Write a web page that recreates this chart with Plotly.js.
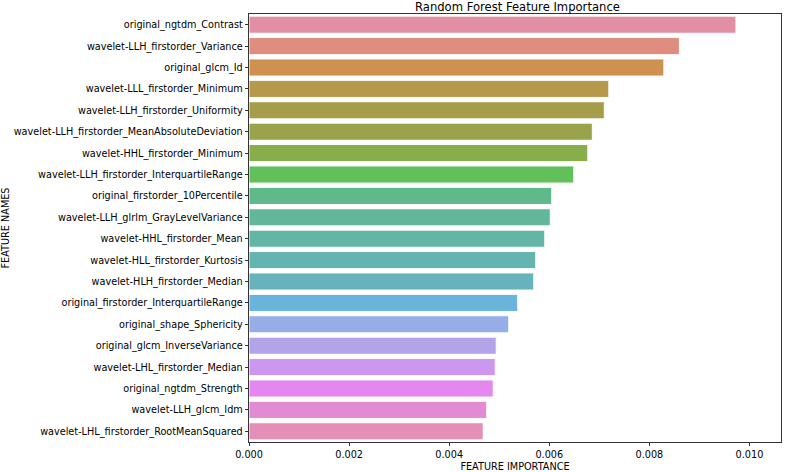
<!DOCTYPE html>
<html>
<head>
<meta charset="utf-8">
<script src="https://cdn.plot.ly/plotly-3.0.1.min.js"></script>
<style>
  html, body { margin: 0; padding: 0; background: #fff; }
  #chart { width: 790px; height: 472px; }
</style>
</head>
<body>
<div id="chart"></div>
<script>
// Feature names, top to bottom
const features = [
    "original_ngtdm_Contrast",
    "wavelet-LLH_firstorder_Variance",
    "original_glcm_Id",
    "wavelet-LLL_firstorder_Minimum",
    "wavelet-LLH_firstorder_Uniformity",
    "wavelet-LLH_firstorder_MeanAbsoluteDeviation",
    "wavelet-HHL_firstorder_Minimum",
    "wavelet-LLH_firstorder_InterquartileRange",
    "original_firstorder_10Percentile",
    "wavelet-LLH_glrlm_GrayLevelVariance",
    "wavelet-HHL_firstorder_Mean",
    "wavelet-HLL_firstorder_Kurtosis",
    "wavelet-HLH_firstorder_Median",
    "original_firstorder_InterquartileRange",
    "original_shape_Sphericity",
    "original_glcm_InverseVariance",
    "wavelet-LHL_firstorder_Median",
    "original_ngtdm_Strength",
    "wavelet-LLH_glcm_Idm",
    "wavelet-LHL_firstorder_RootMeanSquared"
];

// Importance values
const importance = [
    0.00973, 0.00860, 0.00829, 0.00719, 0.00710,
    0.00686, 0.00677, 0.00649, 0.00605, 0.00602,
    0.00591, 0.00573, 0.00569, 0.00537, 0.00519,
    0.00494, 0.00492, 0.00488, 0.00475, 0.00468
];

const barColors = [
    "#e28fa3", "#df8d7f", "#cf914f", "#b6994b", "#a69d4b",
    "#98a34b", "#88ad4b", "#62c05a", "#60b98a", "#62b79a",
    "#63b5a6", "#64b4af", "#66b3bb", "#6ab4dc", "#96ade8",
    "#b3a3e8", "#cd97ef", "#e488f0", "#e38ad4", "#e38fb8"
];

const xTicks = [0, 0.002, 0.004, 0.006, 0.008, 0.010];

const font = { family: "DejaVu Sans", size: 9.7, color: "#000" };

const trace = {
    type: "bar",
    orientation: "h",
    x: importance,
    y: features,
    width: 0.8,
    marker: { color: barColors, line: { color: "#fff", width: 1 } },
    hoverinfo: "x+y"
};

const layout = {
    width: 790,
    height: 472,
    margin: { l: 249, r: 9, t: 14, b: 30 },
    paper_bgcolor: "#fff",
    plot_bgcolor: "#fff",
    font: font,
    showlegend: false,
    bargap: 0.2,
    title: {
        text: "Random Forest Feature Importance",
        font: { family: "DejaVu Sans", size: 11.6, color: "#000" },
        x: 0.655, xanchor: "center",
        y: 0.985, yanchor: "middle", yref: "container"
    },
    xaxis: {
        range: [0, 0.01063],
        tickvals: xTicks,
        tickformat: ".3f",
        ticks: "outside", ticklen: 3.5, tickwidth: 0.8, tickcolor: "#000",
        showgrid: false, zeroline: false,
        showline: true, linecolor: "#000", linewidth: 0.8, mirror: true,
        tickfont: font,
        title: { text: "FEATURE IMPORTANCE", font: font, standoff: 4 }
    },
    yaxis: {
        autorange: "reversed",
        ticks: "outside", ticklen: 3.5, tickwidth: 0.8, tickcolor: "#000",
        showgrid: false, zeroline: false,
        showline: true, linecolor: "#000", linewidth: 0.8, mirror: true,
        tickfont: font,
        title: { text: "FEATURE NAMES", font: font, standoff: 6 }
    }
};

Plotly.newPlot("chart", [trace], layout, { displayModeBar: false, staticPlot: true });
</script>
</body>
</html>
